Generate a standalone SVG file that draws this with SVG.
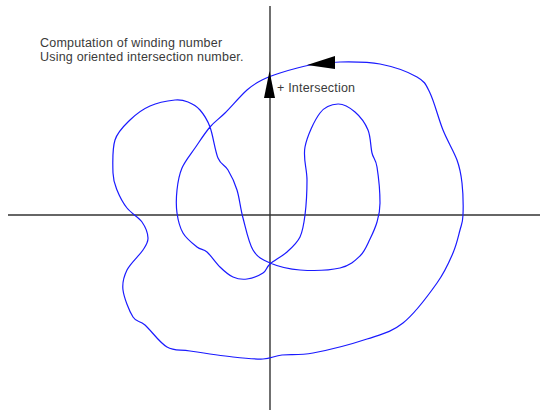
<svg xmlns="http://www.w3.org/2000/svg" width="540" height="410" viewBox="0 0 540 410">
<style>
.axis{stroke:#333;stroke-width:1.4;fill:none}
.curve{stroke:#1a1aff;stroke-width:1.2;fill:none}
.arrow{fill:#000;stroke:none}
text{font-family:"Liberation Sans",Arial,sans-serif;font-size:12.5px;letter-spacing:0.2px;fill:#3a3a3a}
</style>
<rect width="540" height="410" fill="#fff"/>
<g id="connectors">
<line class="axis" x1="270" y1="6" x2="270" y2="410"/>
<line class="axis" x1="8" y1="215" x2="540" y2="215"/>
<path id="winding-curve" class="curve" d="M340,62 C328.3,62.2 320,63.2 310,65 C300,66.8 288,70.5 280,73 C272,75.5 267.5,77.2 262,80 C256.5,82.8 253.2,84.5 247,90 C240.8,95.5 231.2,106.8 225,113 C218.8,119.2 215,121.2 210,127 C205,132.8 199.7,141.2 195,148 C190.3,154.8 185,161 182,168 C179,175 177.8,182.5 177,190 C176.2,197.5 176,205.8 177,213 C178,220.2 179.7,227.3 183,233 C186.3,238.7 193,243.8 197,247 C201,250.2 203.2,248.7 207,252 C210.8,255.3 215.7,262.8 220,267 C224.3,271.2 228.5,275 233,277 C237.5,279 242,279.7 247,279 C252,278.3 259.2,275.5 263,273 C266.8,270.5 266,267.5 270,264 C274,260.5 282,256.5 287,252 C292,247.5 297,243.2 300,237 C303,230.8 303.8,224.5 305,215 C306.2,205.5 307,191.3 307,180 C307,168.7 302.8,158.2 305,147 C307.2,135.8 314.5,120.2 320,113 C325.5,105.8 332.2,104.2 338,104 C343.8,103.8 350,107.7 355,112 C360,116.3 365.2,123.2 368,130 C370.8,136.8 370.5,146.8 372,153 C373.5,159.2 375.7,158.7 377,167 C378.3,175.3 380,193.8 380,203 C380,212.2 378.7,216 377,222 C375.3,228 372.8,233.3 370,239 C367.2,244.7 365,251.2 360,256 C355,260.8 350,265.7 340,268 C330,270.3 311.7,270.8 300,270 C288.3,269.2 277.8,266.3 270,263 C262.2,259.7 257.5,257.5 253,250 C248.5,242.5 245.7,228 243,218 C240.3,208 239.5,198 237,190 C234.5,182 231.2,175.3 228,170 C224.8,164.7 221,165.2 218,158 C215,150.8 213,135 210,127 C207,119 203.7,114.2 200,110 C196.3,105.8 192.2,103.7 188,102 C183.8,100.3 181.3,99.3 175,100 C168.7,100.7 157.5,102.7 150,106 C142.5,109.3 135.8,114.3 130,120 C124.2,125.7 117.8,131.2 115,140 C112.2,148.8 112.7,164.7 113,173 C113.3,181.3 114.7,184.2 117,190 C119.3,195.8 122.8,202.7 127,208 C131.2,213.3 138.5,217 142,222 C145.5,227 147.8,233.3 148,238 C148.2,242.7 146.5,244.7 143,250 C139.5,255.3 130.3,263.3 127,270 C123.7,276.7 122,282.2 123,290 C124,297.8 129.3,311.2 133,317 C136.7,322.8 139.3,320 145,325 C150.7,330 159.5,342.7 167,347 C174.5,351.3 179,349.3 190,351 C201,352.7 220.8,355.7 233,357 C245.2,358.3 254.8,359.3 263,359 C271.2,358.7 273.7,356 282,355 C290.3,354 298.8,355.7 313,353 C327.2,350.3 352,344 367,339 C382,334 391.3,332.3 403,323 C414.7,313.7 428.7,294.7 437,283 C445.3,271.3 449.2,261.8 453,253 C456.8,244.2 458.3,236.3 460,230 C461.7,223.7 462.7,222.8 463,215 C463.3,207.2 463,192.2 462,183 C461,173.8 460.2,168.8 457,160 C453.8,151.2 447.5,141.2 443,130 C438.5,118.8 434.3,101.8 430,93 C425.7,84.2 425.3,81.8 417,77 C408.7,72.2 392.8,66.5 380,64 C367.2,61.5 351.7,61.8 340,62 Z"/>
<polygon class="arrow" points="307,65 335,56 335,69"/>
<polygon class="arrow" points="269.5,71 264,98 275,98"/>
</g>
<g id="title">
<text x="40" y="47">Computation of winding number</text>
<text x="40" y="61">Using oriented intersection number.</text>
</g>
<g id="label-intersection">
<text x="277" y="92">+ Intersection</text>
</g>
</svg>
